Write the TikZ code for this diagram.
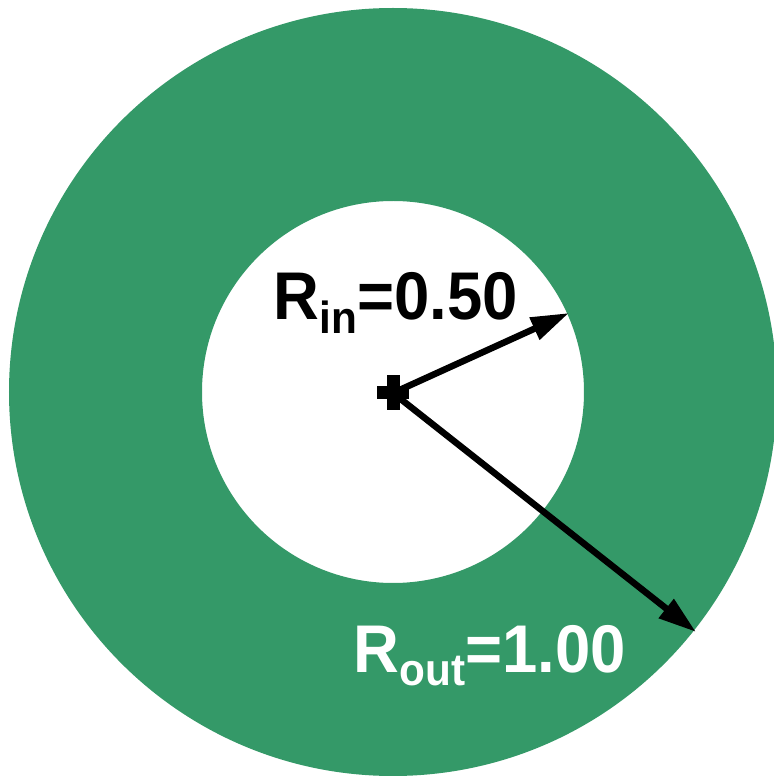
\documentclass[tikz,border=0pt]{standalone}
\usepackage{fontspec}
\setmainfont{Liberation Sans}[FakeStretch=0.94]
\usetikzlibrary{arrows.meta}
\definecolor{ringgreen}{RGB}{52,153,104}
\tikzset{
  radius arrow/.style={line width=0.065cm, -{Triangle[length=0.38cm,width=0.23cm]}},
  rlabel/.style={anchor=base west, inner sep=0pt, font=\fontsize{19.2}{20}\selectfont\bfseries}
}
\newcommand{\lowsub}[1]{\raisebox{-3.8pt}{\fontsize{12.8}{13}\selectfont #1}}
\begin{document}
\begin{tikzpicture}
\useasboundingbox (0,0) rectangle (7.73,7.76);
\fill[ringgreen, even odd rule] (3.93,3.84) circle (3.84) (3.93,3.84) circle (1.91);
\coordinate (c) at (3.93,3.83);
\coordinate (pin) at (5.69,4.63);
\coordinate (pout) at (6.96,1.44);
\draw[radius arrow] (c) -- (pin);
\draw[radius arrow] (c) -- (pout);
\draw[line width=0.13cm] (3.77,3.83) -- (4.09,3.83);
\draw[line width=0.13cm] (3.93,3.66) -- (3.93,4.01);
\node[rlabel] (lin) at (2.73,4.56) {R\lowsub{in}=0.50};
\node[rlabel, text=white] (lout) at (3.53,1.04) {R\lowsub{out}=1.00};
\end{tikzpicture}
\end{document}
